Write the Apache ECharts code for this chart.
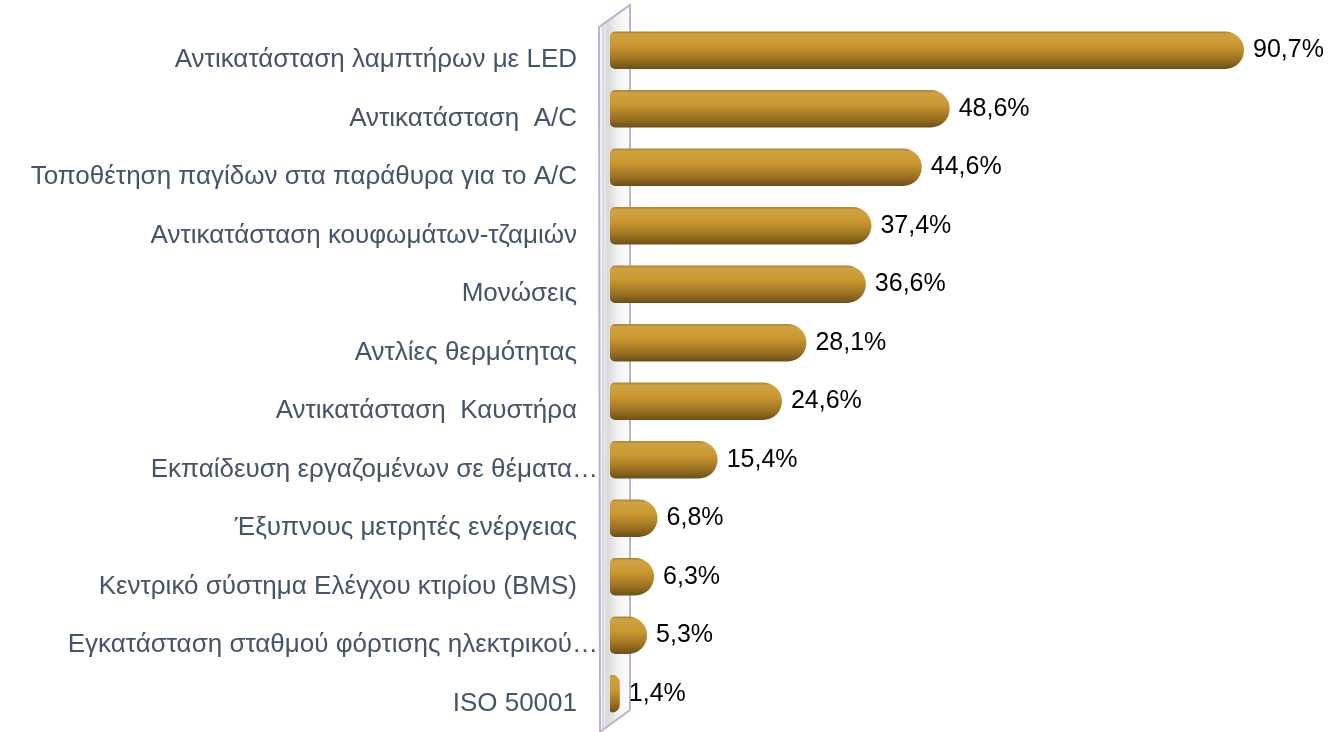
<!DOCTYPE html>
<html>
<head>
<meta charset="utf-8">
<script src="https://cdn.jsdelivr.net/npm/echarts@6/dist/echarts.min.js"></script>
<style>
  html, body { margin: 0; padding: 0; background: #fff; }
  #chart { width: 1333px; height: 732px; }
</style>
</head>
<body>
<div id="chart"></div>
<script>
// categories as they appear top to bottom
const categories = [
  'Αντικατάσταση λαμπτήρων με LED',
  'Αντικατάσταση  A/C',
  'Τοποθέτηση παγίδων στα παράθυρα για το A/C',
  'Αντικατάσταση κουφωμάτων-τζαμιών',
  'Μονώσεις',
  'Αντλίες θερμότητας',
  'Αντικατάσταση  Καυστήρα',
  'Εκπαίδευση εργαζομένων σε θέματα…',
  'Έξυπνους μετρητές ενέργειας',
  'Κεντρικό σύστημα Ελέγχου κτιρίου (BMS)',
  'Εγκατάσταση σταθμού φόρτισης ηλεκτρικού…',
  'ISO 50001'
]
const values = [90.7, 48.6, 44.6, 37.4, 36.6, 28.1, 24.6, 15.4, 6.8, 6.3, 5.3, 1.4]

const chart = echarts.init(document.getElementById('chart'))

const goldGradient = new echarts.graphic.LinearGradient(0, 0, 0, 1, [
  { offset: 0, color: '#a8843a' },
  { offset: 0.08, color: '#cfa241' },
  { offset: 0.4, color: '#c9972f' },
  { offset: 0.75, color: '#9c7222' },
  { offset: 1, color: '#6b5018' }
])

const font = 'Liberation Sans, Arial, sans-serif'

const option = {
  animation: false,
  textStyle: { fontFamily: font },
  grid: { left: 610, right: 24, top: 21, bottom: 9, containLabel: false },
  xAxis: {
    type: 'value',
    min: 0,
    max: 100,
    show: false
  },
  yAxis: {
    type: 'category',
    data: categories,
    inverse: true,
    axisLine: { show: false },
    axisTick: { show: false },
    axisLabel: {
      margin: 12,
      padding: [20, 0, 0, 0],
      // truncated labels run up to the wall, the rest stop a bit short of it
      formatter: (v) => v.endsWith('…') ? '{t|' + v + '}' : '{t|' + v + '}{s| }',
      rich: {
        t: { fontSize: 26, color: '#44546a', fontFamily: font },
        s: { width: 21, fontSize: 26 }
      }
    }
  },
  graphic: [
    {
      type: 'polygon',
      z: 0,
      shape: { points: [[599, 27], [630, 5], [630, 710], [600, 732]] },
      style: {
        fill: new echarts.graphic.LinearGradient(0, 0, 1, 0, [
          { offset: 0, color: '#ffffff' },
          { offset: 0.3, color: '#d9d9d9' },
          { offset: 0.6, color: '#f2f2f2' },
          { offset: 1, color: '#ffffff' }
        ]),
        stroke: '#bfb0cf',
        lineWidth: 2
      }
    },
    {
      type: 'line',
      z: 1,
      shape: { x1: 603, y1: 25, x2: 603, y2: 730 },
      style: { stroke: '#cfc3db', lineWidth: 1 }
    }
  ],
  series: [
    {
      type: 'bar',
      data: values,
      barWidth: '64%',
      z: 3,
      itemStyle: {
        color: goldGradient,
        borderRadius: [5, 19, 19, 5]
      },
      label: {
        show: true,
        position: 'right',
        distance: 9,
        padding: [6, 0, 0, 0],
        fontSize: 25,
        color: '#000',
        fontFamily: font,
        formatter: (p) => p.value.toFixed(1).replace('.', ',') + '%'
      }
    }
  ]
}

chart.setOption(option)
</script>
</body>
</html>
